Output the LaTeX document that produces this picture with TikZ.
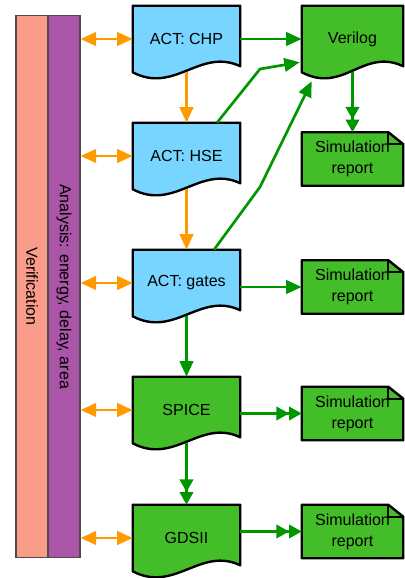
\documentclass[tikz,border=0pt]{standalone}
\usepackage{fontspec}
\setmainfont{Liberation Sans}
\usetikzlibrary{arrows.meta,backgrounds,calc}
\definecolor{actblue}{RGB}{119,213,255}
\definecolor{simgreen}{RGB}{68,190,40}
\definecolor{flowgreen}{RGB}{0,150,0}
\definecolor{linkorange}{RGB}{255,153,0}
\definecolor{verifsalmon}{RGB}{250,156,138}
\definecolor{anapurple}{RGB}{170,85,168}

% document shape with a wavy bottom edge, drawn round a node
\newcommand{\docshape}[2]{%
  \draw[outline, fill=#2] (#1.north west) -- (#1.north east)
    -- ([shift={(0,-6)}]#1.south east)
    .. controls ([shift={(-40,-25)}]#1.south east) and ([shift={(42,22)}]#1.south west) .. (#1.south west)
    -- cycle;}
% report sheet with a folded corner
\newcommand{\noteshape}[1]{%
  \draw[outline, fill=simgreen] (#1.north west) -- ([shift={(-15,0)}]#1.north east)
    -- ([shift={(0,12)}]#1.north east) -- (#1.south east) -- (#1.south west) -- cycle;
  \draw[outline] ([shift={(-15,0)}]#1.north east) |- ([shift={(0,12)}]#1.north east);}

\begin{document}
\begin{tikzpicture}[
    x=0.025cm, y=-0.025cm,
    outline/.style={draw=black, line width=1.7pt, line join=round},
    txt/.style={font=\fontsize{11.4}{14.9}\selectfont, align=center, inner sep=0pt},
    doc/.style={txt, minimum width=2.675cm, minimum height=1.65cm},
    report/.style={txt, minimum width=2.525cm, minimum height=1.325cm},
    bar/.style={draw=black!70, line width=0.8pt, minimum width=0.8cm, minimum height=13.525cm, inner sep=0pt},
    link/.style={{Triangle[length=11pt,width=9.5pt]}-{Triangle[length=11pt,width=9.5pt]}, line width=1.9pt, linkorange},
    refine/.style={-{Triangle[length=11pt,width=9.5pt]}, line width=1.9pt, linkorange},
    flow/.style={-{Triangle[length=11pt,width=9.5pt]}, line width=1.9pt, flowgreen},
    flow2/.style={-{Triangle[length=9pt,width=9.5pt]Triangle[length=9pt,width=9.5pt]}, line width=1.9pt, flowgreen}
]
\useasboundingbox (0,0) rectangle (404,578);

% Side bars
\node[bar, fill=verifsalmon] (verif) at (32,286.5) {};
\node[txt, rotate=-90] (veriftext) at (verif) {Verification};
\node[bar, fill=anapurple] (ana) at (64,286.5) {};
\node[txt, rotate=-90] (anatext) at (ana) {Analysis: energy, delay, area};

% ACT levels
\node[doc] (chp) at (186.5,39) {ACT: CHP};
\node[doc] (hse) at (186.5,156) {ACT: HSE};
\node[doc] (gates) at (186.5,283) {ACT: gates};

% Netlists
\node[doc] (spice) at (186.5,410) {SPICE};
\node[doc] (gds) at (186.5,538) {GDSII};
\node[doc, minimum width=2.525cm] (verilog) at (352.5,39) {Verilog};

% Reports
\node[report] (rep1) at (352.5,159) {Simulation\\report};
\node[report] (rep2) at (352.5,287) {Simulation\\report};
\node[report] (rep3) at (352.5,413.5) {Simulation\\report};
\node[report] (rep4) at (352.5,531.5) {Simulation\\report};

\begin{scope}[on background layer]
\docshape{chp}{actblue}
\docshape{hse}{actblue}
\docshape{gates}{actblue}
\docshape{spice}{simgreen}
\docshape{gds}{simgreen}
\docshape{verilog}{simgreen}
\noteshape{rep1}
\noteshape{rep2}
\noteshape{rep3}
\noteshape{rep4}
\end{scope}

% Analysis links
\foreach \n in {chp,hse,gates,spice,gds}
  \draw[link] (ana.east |- \n) -- (\n.west);

% Refinement
\draw[refine] (chp) -- (hse);
\draw[refine] (hse) -- (gates);

% Translation
\coordinate (hsebend) at (260,69);
\coordinate (gatesbend) at (260,187);
\draw[flow] (chp.east) -- (chp.east -| verilog.west);
\draw[flow] ([shift={(30.5,0)}]hse.north) -- (hsebend) -- ([shift={(-2,-10)}]verilog.south west);
\draw[flow] ([shift={(27.5,0)}]gates.north) -- (gatesbend) -- ([shift={(10,9)}]verilog.south west);
\draw[flow] (gates) -- (spice);
\draw[flow2] (spice) -- (gds);

% Simulation
\draw[flow2] (verilog) -- (rep1);
\draw[flow] (gates.east |- rep2) -- (rep2.west);
\draw[flow2] (spice.east |- rep3) -- (rep3.west);
\draw[flow2] (gds.east |- rep4) -- (rep4.west);

\end{tikzpicture}
\end{document}
